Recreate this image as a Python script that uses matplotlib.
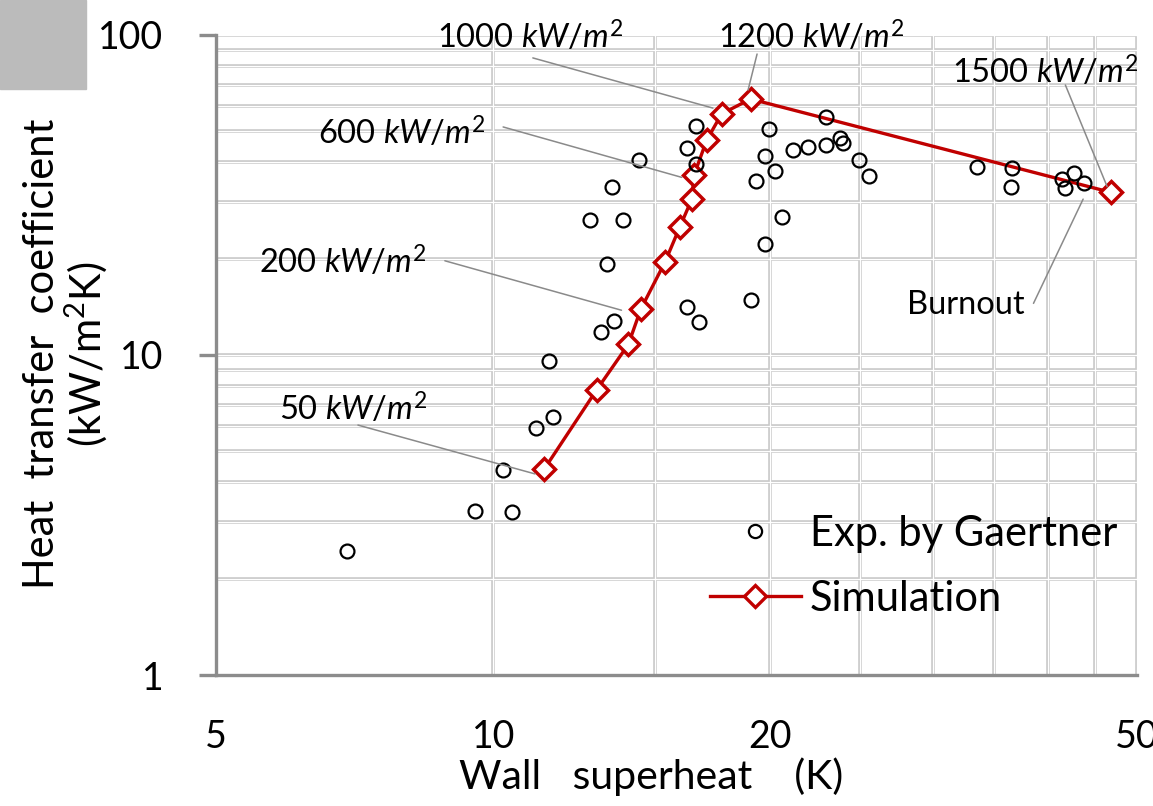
import matplotlib
matplotlib.use("Agg")
import matplotlib.pyplot as plt
from matplotlib.lines import Line2D
from matplotlib.patches import Rectangle
from matplotlib.ticker import NullFormatter

plt.rcParams['font.family'] = ['Lato', 'DejaVu Sans']
plt.rcParams['mathtext.fontset'] = 'custom'
plt.rcParams['mathtext.rm'] = 'Lato'
plt.rcParams['mathtext.it'] = 'Lato:italic'

# experiment (Gaertner): wall superheat (K), heat transfer coefficient (kW/m2K)
exp_dt = [6.94, 9.55, 10.49, 10.24, 11.13, 11.61, 11.49, 13.10, 13.52, 13.28,
          12.74, 13.82, 13.47, 14.39, 16.22, 16.74, 16.60, 16.22, 16.60, 19.94,
          19.71, 20.22, 19.27, 20.57, 19.73, 19.03, 21.18, 21.99, 22.96, 22.96,
          23.80, 23.96, 24.97, 25.6, 33.5, 36.6, 36.5, 41.4, 41.8, 42.7, 43.8]
exp_h = [2.44, 3.26, 3.24, 4.36, 5.93, 6.39, 9.60, 11.76, 12.79, 19.2,
         26.5, 26.4, 33.6, 40.7, 14.1, 12.7, 51.9, 44.2, 39.5, 50.7,
         41.9, 37.6, 35.0, 26.9, 22.3, 14.9, 43.7, 44.6, 45.3, 55.3,
         47.6, 46.1, 40.7, 36.3, 38.8, 38.5, 33.6, 35.4, 33.2, 37.1, 34.4]

# simulation
sim_dt = [11.36, 12.95, 14.02, 14.46, 15.37, 15.95, 16.43, 16.52, 17.05, 17.70, 19.03, 46.9]
sim_h = [4.40, 7.78, 10.8, 13.9, 19.57, 25.2, 30.7, 36.5, 46.9, 56.7, 63.1, 32.2]

# annotations: text, text left/centre, leader start, leader end
notes = [
    (r'50 $kW/m^2$', (5.85, 6.78), (7.13, 6.04), (11.10, 4.25)),
    (r'200 $kW/m^2$', (5.57, 19.5), (8.86, 19.7), (13.78, 13.8)),
    (r'600 $kW/m^2$', (6.45, 49.4), (10.25, 51.6), (16.02, 35.9)),
    (r'1000 $kW/m^2$', (8.69, 98.6), (11.04, 84.8), (17.32, 59.1)),
    (r'1200 $kW/m^2$', (17.54, 98.6), (19.34, 87.2), (18.91, 67.3)),
    (r'1500 $kW/m^2$', (31.5, 76.6), (41.8, 69.8), (46.4, 33.6)),
    ('Burnout', (28.1, 14.3), (38.6, 14.5), (43.7, 30.7)),
]

x_grid = [10, 15, 20, 25, 30, 35, 40, 45, 50]
y_grid = [2, 3, 4, 5, 6, 7, 8, 9, 10, 20, 30, 40, 50, 60, 70, 80, 90, 100]

red = '#C00000'
axis_gray = '#8c8c8c'

fig = plt.figure(figsize=(11.53, 8.06), dpi=100)
fig.patches.append(Rectangle((0, 1 - 89 / 806), 86 / 1153, 89 / 806,
                             transform=fig.transFigure, color='#bbbbbb', zorder=0))
ax = fig.add_axes([216 / 1153, 1 - 675 / 806, 921 / 1153, 640 / 806])
ax.set_xscale('log')
ax.set_yscale('log')
ax.set_xlim(5, 50)
ax.set_ylim(1, 100)

# double-stroke grid like the original
for v in x_grid:
    ax.axvline(v, color='#c9c9c9', lw=2.6, zorder=0.5)
    ax.axvline(v, color='white', lw=0.9, zorder=0.6)
for v in y_grid:
    ax.axhline(v, color='#c9c9c9', lw=2.6, zorder=0.5)
    ax.axhline(v, color='white', lw=0.9, zorder=0.6)

ax.plot(sim_dt, sim_h, color=red, lw=2.4, marker='D', ms=11.5, mfc='white',
        mec=red, mew=2.5, zorder=3)
ax.plot(exp_dt, exp_h, ls='none', marker='o', ms=10, mfc='none', mec='black',
        mew=1.6, zorder=4)

for label, tpos, p0, p1 in notes:
    ax.text(tpos[0], tpos[1], label, fontsize=23.5, ha='left', va='center', zorder=5)
    ax.annotate('', xy=p1, xytext=p0,
                arrowprops=dict(arrowstyle='-', color='#8a8a8a', lw=1.1,
                                shrinkA=0, shrinkB=0), zorder=5)

for s in ['top', 'right']:
    ax.spines[s].set_visible(False)
for s in ['left', 'bottom']:
    ax.spines[s].set_color(axis_gray)
    ax.spines[s].set_linewidth(2.4)
    ax.spines[s].set_zorder(2)

ax.set_xticks([5, 10, 20, 50])
ax.set_xticklabels(['5', '10', '20', '50'])
ax.set_xticks([5, 50], minor=True)
ax.xaxis.set_minor_formatter(NullFormatter())
ax.tick_params(axis='x', which='major', length=0, pad=32, labelsize=27)
ax.tick_params(axis='x', which='minor', length=12, width=2.4, color=axis_gray)
ax.set_yticks([1, 10, 100])
ax.set_yticklabels(['1', '10', '100'])
ax.set_yticks([], minor=True)
ax.tick_params(axis='y', which='major', length=12, width=2.4, color=axis_gray,
               pad=26, labelsize=27)

fig.text(651 / 1153, 1 - 777 / 806, 'Wall   superheat    (K)', fontsize=29.5,
         ha='center', va='center')
fig.text(66 / 1153, 1 - 354 / 806, 'Heat  transfer  coefficient\n(kW/m$^2$K)',
         fontsize=30, ha='center', va='center', rotation=90, linespacing=1.05)

handles = [
    Line2D([], [], ls='none', marker='o', ms=9.5, mfc='none', mec='black', mew=1.6),
    Line2D([], [], color=red, lw=2.4, marker='D', ms=11, mfc='white', mec=red, mew=2.4),
]
ax.legend(handles, ['Exp. by Gaertner', 'Simulation'], loc='upper left',
          bbox_to_anchor=(0.536, 0.25), frameon=False, fontsize=30,
          borderpad=0, borderaxespad=0, handlelength=2.2, handletextpad=0.2,
          labelspacing=0.65)

fig.savefig('out.png', dpi=100)
